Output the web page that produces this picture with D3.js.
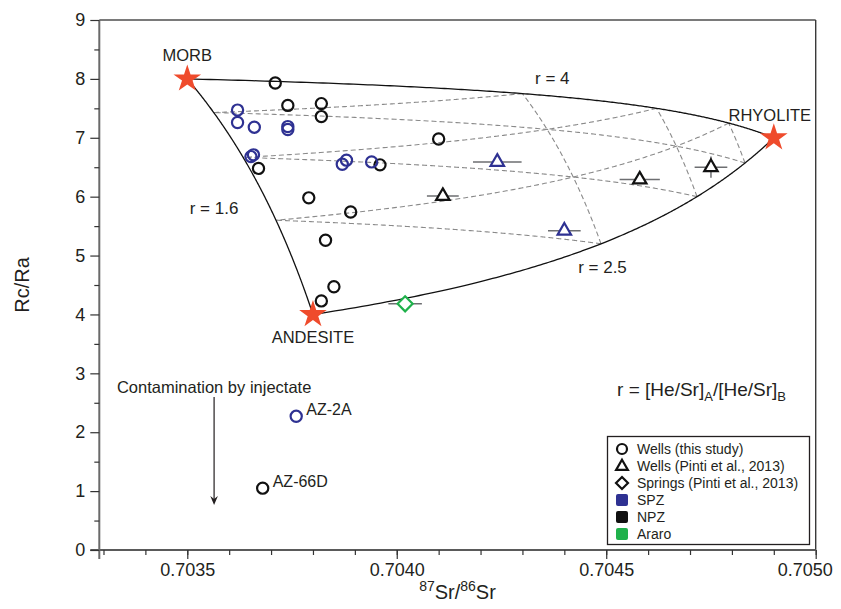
<!DOCTYPE html>
<html>
<head>
<meta charset="utf-8">
<script src="https://cdn.jsdelivr.net/npm/d3@7"></script>
<style>
  body { margin: 0; background: #fff; }
  svg text { font-family: "Liberation Sans", Arial, Helvetica, sans-serif; fill: #231f20; }
</style>
</head>
<body>
<svg id="chart" width="841" height="609"></svg>
<script>
// ---- Three-component mixing model (end-members) ----
const endmemberNames = ["MORB", "ANDESITE", "RHYOLITE"];
const endmemberSr = [0.7035, 0.7038, 0.7049];
const endmemberRcRa = [8.0, 4.0, 7.0];
const endmemberSrConc = [1.25, 1.0, 5.0];          // relative Sr content
// binary mixing curves: pairs of end-members and r = [He/Sr]A/[He/Sr]B
const curvePairs = [[0, 2], [0, 1], [1, 2]];
const curveR = [4, 1.6, 2.5];
const curveLabels = ["r = 4", "r = 1.6", "r = 2.5"];
// mass fractions marked by the dashed ternary grid
const gridFractions = [0.25, 0.5, 0.75];

// ---- Wells (this study) ----
const wellSr = [0.70371, 0.70374, 0.70382, 0.70382, 0.70410, 0.70367, 0.70396, 0.70379,
                0.70389, 0.70383, 0.70385, 0.70382, 0.70368,
                0.70362, 0.70362, 0.70366, 0.70374, 0.70374, 0.703658, 0.703652,
                0.70388, 0.70387, 0.70394, 0.70376];
const wellRcRa = [7.93, 7.55, 7.58, 7.36, 6.98, 6.48, 6.54, 5.98,
                  5.74, 5.26, 4.47, 4.23, 1.05,
                  7.47, 7.26, 7.18, 7.19, 7.14, 6.71, 6.68,
                  6.62, 6.55, 6.59, 2.27];
const wellZone = ["NPZ", "NPZ", "NPZ", "NPZ", "NPZ", "NPZ", "NPZ", "NPZ",
                  "NPZ", "NPZ", "NPZ", "NPZ", "NPZ",
                  "SPZ", "SPZ", "SPZ", "SPZ", "SPZ", "SPZ", "SPZ",
                  "SPZ", "SPZ", "SPZ", "SPZ"];
const wellName = ["", "", "", "", "", "", "", "", "", "", "", "", "AZ-66D",
                  "", "", "", "", "", "", "", "", "", "", "AZ-2A"];

// ---- Wells (Pinti et al., 2013) ----
const pintiSr = [0.70411, 0.70424, 0.70458, 0.70475, 0.70440];
const pintiRcRa = [6.01, 6.59, 6.29, 6.50, 5.42];
const pintiSrErr = [0.000038, 0.000058, 0.000048, 0.000039, 0.000039];
const pintiRcRaErr = [0, 0, 0, 0.18, 0];
const pintiZone = ["NPZ", "SPZ", "NPZ", "NPZ", "SPZ"];

// ---- Springs (Pinti et al., 2013) ----
const springSr = [0.70402];
const springRcRa = [4.18];
const springSrErr = [0.00004];
const springZone = ["Araro"];

// ---- Axes ----
const xTickValues = [0.7035, 0.7040, 0.7045, 0.7050];
const xTickLabels = ["0.7035", "0.7040", "0.7045", "0.7050"];
const yTickValues = [0, 1, 2, 3, 4, 5, 6, 7, 8, 9];
const yTickLabels = ["0", "1", "2", "3", "4", "5", "6", "7", "8", "9"];

const legendLabels = ["Wells (this study)", "Wells (Pinti et al., 2013)", "Springs (Pinti et al., 2013)", "SPZ", "NPZ", "Araro"];

const zoneColor = { SPZ: "#2e3192", NPZ: "#111111", Araro: "#1fb14b" };

const svg = d3.select("#chart");
const x = d3.scaleLinear().domain([0.70329, 0.7050]).range([99.3, 815.7]);
const y = d3.scaleLinear().domain([0, 9]).range([550, 20]);

// He/Sr of each end-member relative to andesite, from the binary r values
const heSr = [curveR[1], 1, 1 / curveR[2]];

function mix(f) {
  let sw = 0, sx = 0, hw = 0, hy = 0;
  f.forEach((fi, i) => {
    const s = fi * endmemberSrConc[i];
    const h = s * heSr[i];
    sw += s; sx += s * endmemberSr[i];
    hw += h; hy += h * endmemberRcRa[i];
  });
  return [sx / sw, hy / hw];
}

const line = d3.line().x(d => x(d[0])).y(d => y(d[1]));
const steps = d3.range(0, 1.00001, 1 / 300);

// dashed ternary grid: lines of constant fraction of one end-member
const gridG = svg.append("g");
[0, 1, 2].forEach(k => {
  const others = [0, 1, 2].filter(i => i !== k);
  gridFractions.forEach(g => {
    const pts = steps.map(t => {
      const f = [0, 0, 0];
      f[k] = g; f[others[0]] = t * (1 - g); f[others[1]] = (1 - t) * (1 - g);
      return mix(f);
    });
    gridG.append("path").attr("d", line(pts))
      .attr("fill", "none").attr("stroke", "#8a8a8a")
      .attr("stroke-width", 1.1).attr("stroke-dasharray", "5,3");
  });
});

// binary mixing curves
const curveG = svg.append("g");
curvePairs.forEach(([a, b]) => {
  const pts = steps.map(t => {
    const f = [0, 0, 0];
    f[a] = t; f[b] = 1 - t;
    return mix(f);
  });
  curveG.append("path").attr("d", line(pts))
    .attr("fill", "none").attr("stroke", "#111").attr("stroke-width", 1.3);
});

// curve labels
const curveLabelPos = [[0.70433, 7.91, "start"], [0.703622, 5.705, "end"], [0.704433, 4.704, "start"]];
curveLabels.forEach((lab, i) => {
  svg.append("text").attr("x", x(curveLabelPos[i][0])).attr("y", y(curveLabelPos[i][1]))
    .attr("text-anchor", curveLabelPos[i][2]).attr("font-size", 17).text(lab);
});

// ---- axes ----
const axisG = svg.append("g");
// frame
axisG.append("line").attr("x1", x.range()[0]).attr("x2", x.range()[1]).attr("y1", y(9)).attr("y2", y(9))
  .attr("stroke", "#7a7a7a").attr("stroke-width", 2);
axisG.append("line").attr("x1", x.range()[1]).attr("x2", x.range()[1]).attr("y1", y(9)).attr("y2", y(0))
  .attr("stroke", "#3a3a3a").attr("stroke-width", 1.4);

const xMinor = d3.range(7033, 7051).map(v => v / 10000);
const yMinor = d3.range(0.5, 9, 1);

svg.append("g").attr("transform", `translate(0,${y(0)})`)
  .call(d3.axisBottom(x).tickValues(xMinor).tickSize(5).tickFormat(""))
  .call(g => g.select(".domain").remove())
  .call(g => g.selectAll("line").attr("stroke", "#333").attr("stroke-width", 1.2));
svg.append("g").attr("transform", `translate(0,${y(0)})`)
  .call(d3.axisBottom(x).tickValues(xTickValues).tickSize(9).tickPadding(4)
    .tickFormat((d, i) => xTickLabels[i]))
  .call(g => g.select(".domain").remove())
  .call(g => g.selectAll("line").attr("stroke", "#333").attr("stroke-width", 1.2))
  .call(g => g.selectAll("text").attr("font-size", 18).attr("fill", "#231f20")
    .attr("font-family", '"Liberation Sans", Arial, sans-serif'))
  // keep the last label inside the page edge
  .call(g => g.selectAll("text").filter((d, i, n) => i === n.length - 1).attr("dx", -11));

svg.append("g").attr("transform", `translate(${x.range()[0]},0)`)
  .call(d3.axisLeft(y).tickValues(yMinor).tickSize(5).tickFormat(""))
  .call(g => g.select(".domain").remove())
  .call(g => g.selectAll("line").attr("stroke", "#333").attr("stroke-width", 1.2));
svg.append("g").attr("transform", `translate(${x.range()[0]},0)`)
  .call(d3.axisLeft(y).tickValues(yTickValues).tickSize(9).tickPadding(5)
    .tickFormat((d, i) => yTickLabels[i]))
  .call(g => g.select(".domain").remove())
  .call(g => g.selectAll("line").attr("stroke", "#333").attr("stroke-width", 1.2))
  .call(g => g.selectAll("text").attr("font-size", 18).attr("fill", "#231f20")
    .attr("font-family", '"Liberation Sans", Arial, sans-serif'));

axisG.append("line").attr("x1", x.range()[0] - 9).attr("x2", x.range()[1]).attr("y1", y(0)).attr("y2", y(0))
  .attr("stroke", "#5a5a5a").attr("stroke-width", 2);
axisG.append("line").attr("x1", x.range()[0]).attr("x2", x.range()[0]).attr("y1", y(0) + 9).attr("y2", y(9))
  .attr("stroke", "#6a6a6a").attr("stroke-width", 2);

// axis titles
svg.append("text").attr("transform", `translate(29,${(y(0) + y(9)) / 2}) rotate(-90)`)
  .attr("text-anchor", "middle").attr("font-size", 20).text("Rc/Ra");
const xTitle = svg.append("text").attr("x", (x.range()[0] + x.range()[1]) / 2).attr("y", 599)
  .attr("text-anchor", "middle").attr("font-size", 20);
xTitle.append("tspan").attr("font-size", 14).attr("dy", -8).text("87");
xTitle.append("tspan").attr("dy", 8).text("Sr/");
xTitle.append("tspan").attr("font-size", 14).attr("dy", -8).text("86");
xTitle.append("tspan").attr("dy", 8).text("Sr");

// ---- error bars ----
const errG = svg.append("g").attr("stroke", "#6d6e71").attr("stroke-width", 1.5);
pintiSr.forEach((v, i) => {
  errG.append("line").attr("x1", x(v - pintiSrErr[i])).attr("x2", x(v + pintiSrErr[i]))
    .attr("y1", y(pintiRcRa[i])).attr("y2", y(pintiRcRa[i]));
  if (pintiRcRaErr[i] > 0) {
    errG.append("line").attr("x1", x(v)).attr("x2", x(v))
      .attr("y1", y(pintiRcRa[i] - pintiRcRaErr[i])).attr("y2", y(pintiRcRa[i] + pintiRcRaErr[i]));
  }
});
springSr.forEach((v, i) => {
  errG.append("line").attr("x1", x(v - springSrErr[i])).attr("x2", x(v + springSrErr[i]))
    .attr("y1", y(springRcRa[i])).attr("y2", y(springRcRa[i]));
});

// ---- markers ----
const triPath = d3.symbol(d3.symbolTriangle, 78)();
const diamondPath = "M0,-7.5L7.5,0L0,7.5L-7.5,0Z";

svg.append("g").selectAll("path").data(pintiSr).join("path")
  .attr("d", triPath)
  .attr("transform", (d, i) => `translate(${x(d)},${y(pintiRcRa[i])})`)
  .attr("fill", "#fff").attr("stroke", (d, i) => zoneColor[pintiZone[i]]).attr("stroke-width", 2.2);

svg.append("g").selectAll("path").data(springSr).join("path")
  .attr("d", diamondPath)
  .attr("transform", (d, i) => `translate(${x(d)},${y(springRcRa[i])})`)
  .attr("fill", "#fff").attr("stroke", (d, i) => zoneColor[springZone[i]]).attr("stroke-width", 2.2);

svg.append("g").selectAll("circle").data(wellSr).join("circle")
  .attr("cx", d => x(d)).attr("cy", (d, i) => y(wellRcRa[i])).attr("r", 5.6)
  .attr("fill", "none").attr("stroke", (d, i) => zoneColor[wellZone[i]]).attr("stroke-width", 2.2);

// well names
wellSr.forEach((v, i) => {
  if (!wellName[i]) return;
  svg.append("text").attr("x", x(v) + 10).attr("y", y(wellRcRa[i]) - 1)
    .attr("font-size", 16).text(wellName[i]);
});

// ---- end-member stars and names ----
const starPath = d3.symbol(d3.symbolStar, 236)();
const nameOffset = [[0, -18], [0, 29], [-4, -17]];
endmemberSr.forEach((v, i) => {
  svg.append("path").attr("d", starPath)
    .attr("transform", `translate(${x(v)},${y(endmemberRcRa[i])})`)
    .attr("fill", "#ef4b2c");
  svg.append("text").attr("x", x(v) + nameOffset[i][0]).attr("y", y(endmemberRcRa[i]) + nameOffset[i][1])
    .attr("text-anchor", "middle").attr("font-size", 16.5).text(endmemberNames[i]);
});

// ---- annotations ----
svg.append("text").attr("x", x(0.703332)).attr("y", y(2.661)).attr("font-size", 16.5)
  .text("Contamination by injectate");
const arrowX = x(0.703564), arrowTop = y(2.6), arrowBot = y(0.764);
svg.append("line").attr("x1", arrowX).attr("x2", arrowX).attr("y1", arrowTop).attr("y2", arrowBot - 3)
  .attr("stroke", "#231f20").attr("stroke-width", 1.2);
svg.append("path").attr("d", `M${arrowX - 3.8},${arrowBot - 9}L${arrowX},${arrowBot}L${arrowX + 3.8},${arrowBot - 9}L${arrowX},${arrowBot - 6}Z`)
  .attr("fill", "#231f20");

const rText = svg.append("text").attr("x", x(0.704526)).attr("y", y(2.615)).attr("font-size", 19);
rText.append("tspan").text("r = [He/Sr]");
rText.append("tspan").attr("font-size", 13).attr("dy", 5).text("A");
rText.append("tspan").attr("dy", -5).text("/[He/Sr]");
rText.append("tspan").attr("font-size", 13).attr("dy", 5).text("B");

// ---- legend ----
const lg = svg.append("g");
lg.append("rect").attr("x", 607.5).attr("y", 436.5).attr("width", 202).attr("height", 108)
  .attr("fill", "#fff").attr("stroke", "#231f20").attr("stroke-width", 1.3);
const rowY = i => 449 + i * 17;
legendLabels.forEach((lab, i) => {
  lg.append("text").attr("x", 637).attr("y", rowY(i)).attr("dy", "0.35em")
    .attr("font-size", 14).text(lab);
});
lg.append("circle").attr("cx", 622).attr("cy", rowY(0)).attr("r", 5)
  .attr("fill", "none").attr("stroke", "#111").attr("stroke-width", 2.2);
lg.append("path").attr("d", d3.symbol(d3.symbolTriangle, 60)())
  .attr("transform", `translate(622,${rowY(1) + 0.5})`)
  .attr("fill", "none").attr("stroke", "#111").attr("stroke-width", 2.2);
lg.append("path").attr("d", "M0,-6L6,0L0,6L-6,0Z")
  .attr("transform", `translate(622,${rowY(2)})`)
  .attr("fill", "none").attr("stroke", "#111").attr("stroke-width", 2.2);
["SPZ", "NPZ", "Araro"].forEach((z, j) => {
  lg.append("rect").attr("x", 616).attr("y", rowY(3 + j) - 6).attr("width", 12).attr("height", 12)
    .attr("rx", 2).attr("fill", zoneColor[z]);
});
</script>
</body>
</html>
